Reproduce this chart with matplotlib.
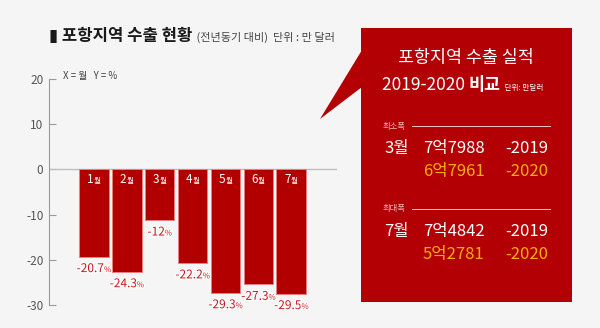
"""포항지역 수출 현황 차트 재현."""
import matplotlib
matplotlib.use("Agg")
import matplotlib.pyplot as plt
import numpy as np
from matplotlib import patheffects
from matplotlib.offsetbox import AnnotationBbox, HPacker, TextArea
from matplotlib.patches import Polygon, Rectangle

plt.rcParams["font.family"] = ["Noto Sans CJK KR", "DejaVu Sans"]

# 데이터
months = ["1", "2", "3", "4", "5", "6", "7"]
change_pct = [-20.7, -24.3, -12, -22.2, -29.3, -27.3, -29.5]
value_labels = ["-20.7", "-24.3", "-12", "-22.2", "-29.3", "-27.3", "-29.5"]
y_ticks = [20, 10, 0, -10, -20, -30]

# 오른쪽 박스 데이터
box_sections = ["최소폭", "최대폭"]
box_months = ["3월", "7월"]
export_2019 = ["7억7988", "7억4842"]
export_2020 = ["6억7961", "5억2781"]

BG = "#f5f5f5"
RED = "#b30005"
BAR_RED = "#b20000"
LABEL_RED = "#c8161d"
ORANGE = "#ffad0f"
BAR_SCALE = 0.93  # 원본 차트에서 막대가 눈금보다 약간 짧게 그려짐

W, H = 600, 328
fig = plt.figure(figsize=(6, 3.28), dpi=100, facecolor=BG)


def px_rect(x0, y0, x1, y1):
    return [x0 / W, 1 - y1 / H, (x1 - x0) / W, (y1 - y0) / H]


# 눈금 축
ax = fig.add_axes(px_rect(49, 70, 337, 310))
ax.set_facecolor("none")
ax.set_ylim(-31.08, 22.01)
ax.set_xlim(0, 1)
for s in ["top", "right", "bottom"]:
    ax.spines[s].set_visible(False)
ax.spines["left"].set_color("#9a9a9a")
ax.spines["left"].set_linewidth(0.8)
ax.spines["left"].set_bounds(-30, 20)
ax.set_yticks(y_ticks)
ax.set_yticklabels([str(t) for t in y_ticks])
ax.tick_params(axis="y", direction="in", length=5, width=0.8, color="#9a9a9a",
               labelsize=8.5, labelcolor="#555555", pad=4)
ax.set_xticks([])
ax.axhline(0, color="#bdbdbd", lw=1)

# 막대 축
axb = fig.add_axes(px_rect(49, 70, 337, 310))
axb.set_facecolor("none")
axb.axis("off")
lo, hi = ax.get_ylim()
axb.set_ylim(lo / BAR_SCALE, hi / BAR_SCALE)
x = np.arange(len(months))
axb.set_xlim(-1.362, 7.39)
axb.bar(x, change_pct, width=0.9, color=BAR_RED, edgecolor="#e98080", linewidth=0.7)

stroke = [patheffects.withStroke(linewidth=1.8, foreground="white")]
for xi, val, lab, m in zip(x, change_pct, value_labels, months):
    pack = HPacker(children=[
        TextArea(lab, textprops=dict(size=8.6, color=LABEL_RED, path_effects=stroke)),
        TextArea("%", textprops=dict(size=5.6, color=LABEL_RED, path_effects=stroke)),
    ], align="baseline", pad=0, sep=0)
    axb.add_artist(AnnotationBbox(pack, (xi, val), xybox=(0, -4), xycoords="data",
                                  boxcoords="offset points", box_alignment=(0.5, 1),
                                  frameon=False, pad=0))
    mpack = HPacker(children=[
        TextArea(m, textprops=dict(size=8.5, color="white")),
        TextArea("월", textprops=dict(size=5.5, color="white")),
    ], align="baseline", pad=0, sep=0)
    axb.add_artist(AnnotationBbox(mpack, (xi, 0), xybox=(0, -2.5), xycoords="data",
                                  boxcoords="offset points", box_alignment=(0.5, 1),
                                  frameon=False, pad=0))

# 주석용 전체 축 (픽셀 좌표)
ov = fig.add_axes([0, 0, 1, 1])
ov.set_xlim(0, W)
ov.set_ylim(H, 0)
ov.axis("off")
ov.set_facecolor("none")

# 제목
title = HPacker(children=[
    TextArea("▮ 포항지역 수출 현황", textprops=dict(size=12, weight="bold", color="#1a1a1a")),
    TextArea(" (전년동기 대비)  단위 : 만 달러", textprops=dict(size=8, color="#444444")),
], align="baseline", pad=0, sep=1)
ov.add_artist(AnnotationBbox(title, (49, 36), xycoords="data", box_alignment=(0, 0.5),
                             frameon=False, pad=0))
ov.text(63, 76, "X = 월   Y = %", fontsize=7, color="#444444", va="center", ha="left")

# 말풍선 박스
ov.add_patch(Rectangle((361, 28), 211, 274, color=RED, lw=0))
ov.add_patch(Polygon([(362, 50), (320, 119), (362, 87)], closed=True, color=RED, lw=0))

ov.text(466, 58, "포항지역 수출 실적", fontsize=12.5, color="white", ha="center", va="center")
sub = HPacker(children=[
    TextArea("2019-2020 ", textprops=dict(size=12.5, color="white")),
    TextArea("비교", textprops=dict(size=12.5, color="white", weight="bold")),
    TextArea("  단위: 만달러", textprops=dict(size=5.5, color="white")),
], align="baseline", pad=0, sep=0)
ov.add_artist(AnnotationBbox(sub, (382, 85), xycoords="data", box_alignment=(0, 0.5),
                             frameon=False, pad=0))

sec_y = [126, 209]
for i, sy in enumerate(sec_y):
    ov.text(383, sy, box_sections[i], fontsize=6, color="#f3b8b8", va="center", ha="left")
    ov.plot([412, 550], [sy, sy], color="#f0c8c8", lw=0.7)
    ov.text(384, sy + 22.5, box_months[i], fontsize=12, color="white", va="center")
    ov.text(423, sy + 22.5, export_2019[i], fontsize=12, color="white", va="center")
    ov.text(505, sy + 22.5, "-2019", fontsize=12, color="white", va="center")
    ov.text(423, sy + 45.5, export_2020[i], fontsize=12, color=ORANGE, va="center")
    ov.text(505, sy + 45.5, "-2020", fontsize=12, color=ORANGE, va="center")

fig.savefig("out.png", dpi=100, facecolor=BG)
